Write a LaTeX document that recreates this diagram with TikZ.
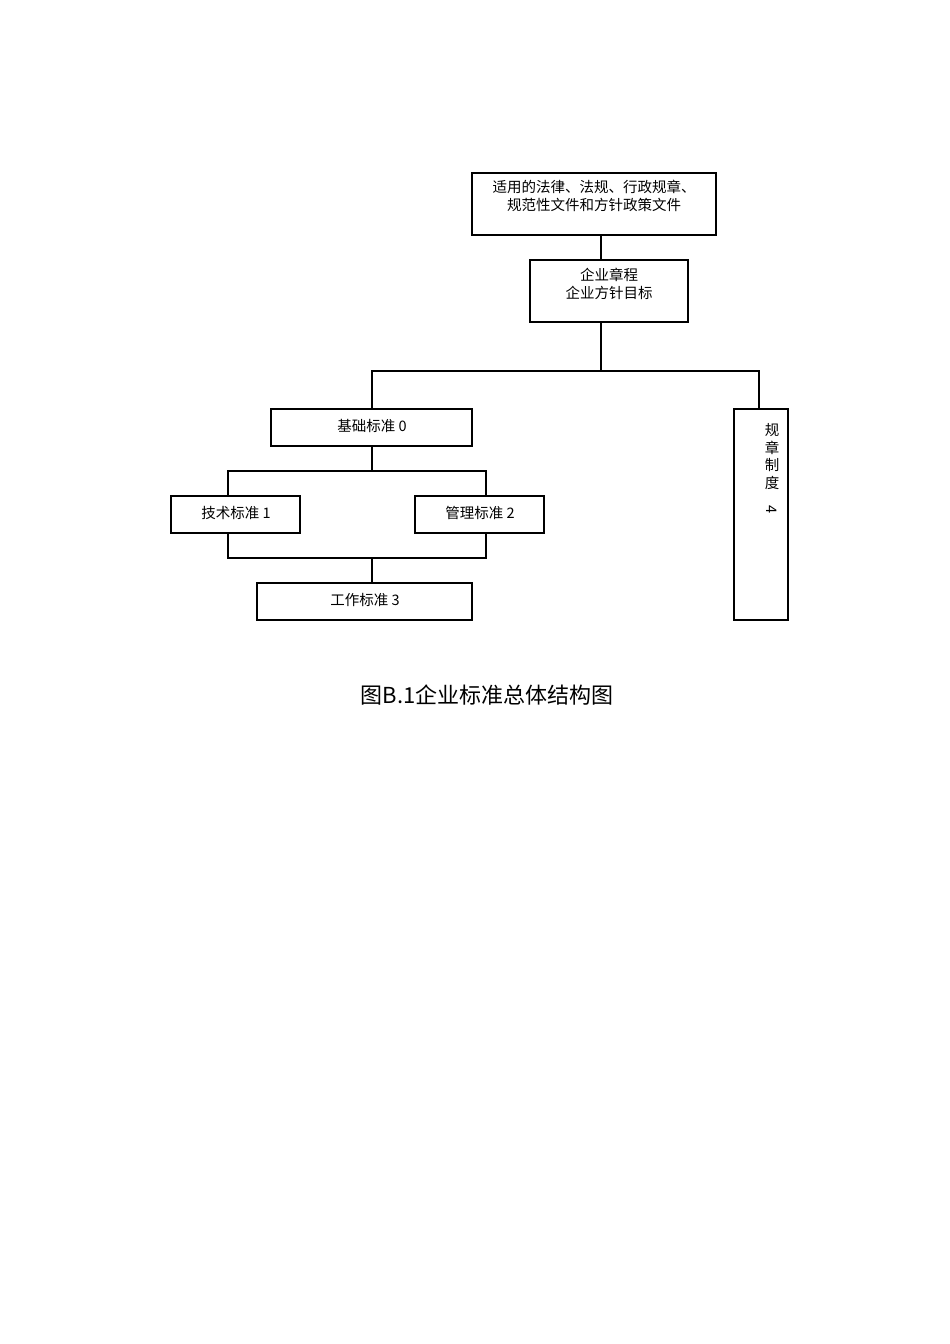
\documentclass[tikz,border=0pt]{standalone}
\usepackage{fontspec}
\newfontfamily\cjk{Noto Sans CJK SC}
\newfontfamily\cjkser{Liberation Serif}
\begin{document}
\begin{tikzpicture}[x=1pt,y=-1pt,
  bx/.style={draw,line width=1.2pt,inner sep=0pt},
  tx/.style={font=\cjk\fontsize{14.5}{17.5}\selectfont,align=center},
  ln/.style={line width=1.2pt}]
\useasboundingbox (0,0) rectangle (950,1344);
\draw[bx] (472,173) rectangle (716,235); \node[tx] (t1) at (594,196) {适用的法律、法规、行政规章、\\规范性文件和方针政策文件};
\coordinate (a1) at (601,235);
\draw[bx] (530,260) rectangle (688,322); \node[tx] (t2) at (609,284) {企业章程\\企业方针目标};
\coordinate (a2) at (601,260); \coordinate (a3) at (601,322);
\draw[bx] (271,409) rectangle (472,446); \node[tx] (t0) at (372,426) {基础标准 0};
\draw[bx] (734,409) rectangle (788,620); \node[tx,anchor=north] (t4) at (772,420) {规\\章\\制\\度\\\rotatebox{-90}{4}};
\draw[bx] (171,496) rectangle (300,533); \node[tx] (tA) at (236,513) {技术标准 1};
\draw[bx] (415,496) rectangle (544,533); \node[tx] (tB) at (480,513) {管理标准 2};
\draw[bx] (257,583) rectangle (472,620); \node[tx] (tC) at (365,600) {工作标准 3};
\draw[ln] (a1) -- (a2);
\draw[ln] (a3) -- (601,371);
\draw[ln] (372,409) -- (372,371) -- (759,371) -- (759,409);
\draw[ln] (372,446) -- (372,471);
\draw[ln] (228,496) -- (228,471) -- (486,471) -- (486,496);
\draw[ln] (228,533) -- (228,558) -- (486,558) -- (486,533);
\draw[ln] (372,558) -- (372,583);
\node[font=\cjk\fontsize{22}{26}\selectfont] (cap) at (487,695) {图B.1企业标准总体结构图};
\end{tikzpicture}
\end{document}
